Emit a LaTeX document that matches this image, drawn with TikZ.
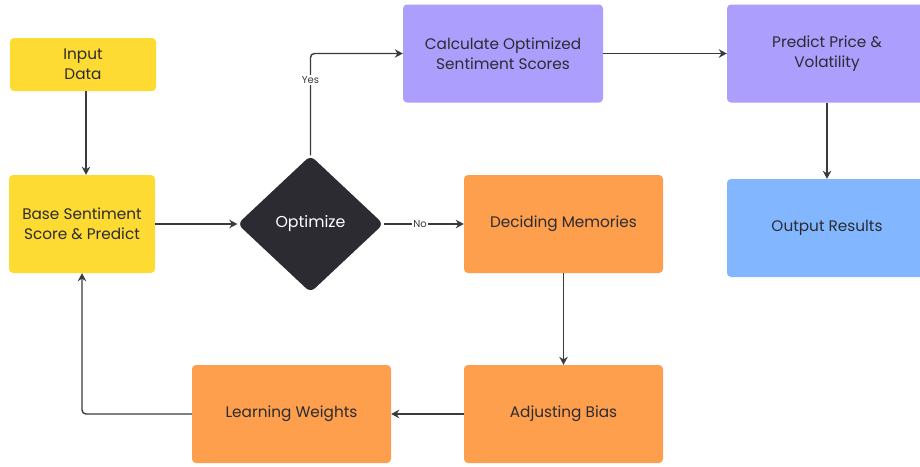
\documentclass[tikz,border=0pt]{standalone}
\usepackage{fontspec}
\setmainfont{Poppins}
\usetikzlibrary{arrows.meta,shapes.geometric}
\definecolor{cyel}{RGB}{253,219,50}
\definecolor{cpur}{RGB}{171,158,252}
\definecolor{cblu}{RGB}{130,183,255}
\definecolor{cora}{RGB}{253,159,76}
\definecolor{cdark}{RGB}{43,43,49}
\definecolor{cline}{RGB}{58,58,62}
\tikzset{
  box/.style={rectangle, rounded corners=4pt, minimum width=#1, minimum height=98pt, inner sep=0pt, align=center, font=\fontsize{15.3}{20}\selectfont, text=cdark},
  box/.default=146pt,
  dia/.style={diamond, fill=cdark, minimum width=146pt, minimum height=137pt, inner sep=0pt, rounded corners=6pt, text=white, font=\fontsize{15.8}{19}\selectfont},
  conn/.style={draw=cline, line width=1.4pt, -{Stealth[length=8pt,width=8.5pt]}, rounded corners=4pt},
  lbl/.style={fill=white, inner sep=1.5pt, font=\fontsize{10}{12}\selectfont, text=cline}
}
\begin{document}
\begin{tikzpicture}[x=1pt,y=-1pt]
\useasboundingbox (0,0) rectangle (920,466);
\node[box=146pt, minimum height=53pt, fill=cyel] (input) at (83,64.5) {Input\\Data};
\node[box=146pt, fill=cyel] (base) at (82,224) {Base Sentiment\\Score \& Predict};
\node[dia] (opt) at (310.5,224) {Optimize};
\node[box=200pt, fill=cpur] (calc) at (503,53.5) {Calculate Optimized\\Sentiment Scores};
\node[box=200pt, fill=cpur] (pred) at (827,53.5) {Predict Price \&\\Volatility};
\node[box=200pt, fill=cblu] (out) at (827,228) {Output Results};
\node[box=199pt, fill=cora] (dec) at (563.5,224) {Deciding Memories};
\node[box=199pt, fill=cora] (adj) at (563.5,414) {Adjusting Bias};
\node[box=199pt, fill=cora] (learn) at (291.5,414) {Learning Weights};
\coordinate (c1) at (310.5,53.5);
\coordinate (c2) at (82,414);
\draw[conn] (input.south -| 86,0) -- (base.north -| 86,0);
\draw[conn] (base.east) -- (opt.west);
\draw[conn] (opt.north) -- (c1) -- (calc.west);
\node[lbl] (yes) at (310.5,80) {Yes};
\draw[conn] (opt.east) -- (dec.west);
\node[lbl] (no) at (420,224) {No};
\draw[conn] (calc.east) -- (pred.west);
\draw[conn] (pred.south) -- (out.north);
\draw[conn] (dec.south) -- (adj.north);
\draw[conn] (adj.west) -- (learn.east);
\draw[conn] (learn.west) -- (c2) -- (base.south);
\end{tikzpicture}
\end{document}
